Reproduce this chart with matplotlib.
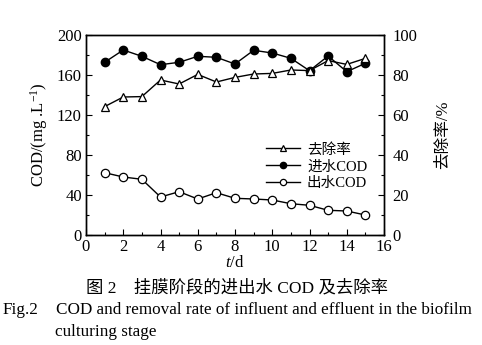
import matplotlib
matplotlib.use("Agg")
import matplotlib.pyplot as plt
from matplotlib.ticker import MultipleLocator

plt.rcParams['font.family'] = ['Liberation Serif', 'Noto Sans CJK SC']
plt.rcParams['mathtext.fontset'] = 'custom'
plt.rcParams['mathtext.rm'] = 'Liberation Serif'
plt.rcParams['mathtext.it'] = 'Liberation Serif:italic'

days = [1, 2, 3, 4, 5, 6, 7, 8, 9, 10, 11, 12, 13, 14, 15]
influent_cod = [172.7, 185, 178.7, 170.3, 172.7, 178.7, 177.7, 171, 184.7, 182, 176.7, 164.3, 179, 163.3, 171.7]
effluent_cod = [62.3, 58, 55.7, 38, 43.3, 36, 42.3, 36.7, 36, 35, 31.3, 29.7, 24.7, 24, 20]
removal_rate = [64.2, 69, 69.2, 77.5, 75.5, 80.3, 76.5, 78.8, 80.5, 80.8, 82.5, 82.2, 87.2, 85.3, 88.3]

fig = plt.figure(figsize=(4.82, 3.45), dpi=100)
ax = fig.add_axes([86/482, 110/345, 298/482, 200/345])
ax2 = ax.twinx()

lw = 1.0
ms = 6.0
l1, = ax2.plot(days, removal_rate, '-^', color='black', lw=lw, ms=ms,
               mfc='white', mec='black', mew=0.9)
l2, = ax.plot(days, influent_cod, '-o', color='black', lw=lw, ms=ms,
              mfc='black', mec='black')
l3, = ax.plot(days, effluent_cod, '-o', color='black', lw=lw, ms=ms,
              mfc='white', mec='black', mew=0.9)

ax.set_xlim(0, 16)
ax.set_ylim(0, 200)
ax2.set_ylim(0, 100)
ax.xaxis.set_major_locator(MultipleLocator(2))
ax.xaxis.set_minor_locator(MultipleLocator(1))
ax.yaxis.set_major_locator(MultipleLocator(40))
ax.yaxis.set_minor_locator(MultipleLocator(20))
ax2.yaxis.set_major_locator(MultipleLocator(20))
ax2.yaxis.set_minor_locator(MultipleLocator(10))

for a in (ax, ax2):
    for s in a.spines.values():
        s.set_linewidth(1.0)
    a.tick_params(which='both', direction='in', labelsize=12, width=0.8)
    a.tick_params(which='major', length=4)
    a.tick_params(which='minor', length=2)
ax.tick_params(axis='x', pad=3)
ax.tick_params(axis='y', pad=3)
ax2.tick_params(axis='y', pad=6)

ax.set_ylabel('COD/(mg .L$^{-1}$)', fontsize=12, labelpad=5)
ax2.set_ylabel('去除率/%', fontsize=12, rotation=90, labelpad=13)
ax.set_xlabel('$t$/d', fontsize=12, labelpad=0)

ax.legend([l1, l2, l3], ['去除率', '进水COD', '出水COD'],
          loc='upper left', bbox_to_anchor=(0.585, 0.49),
          frameon=False, fontsize=10.5, handlelength=2.3,
          handletextpad=0.5, labelspacing=0.25, borderaxespad=0,
          markerscale=0.75)

fig.text(237/482, 1 - 288/345, '图 2\u2003挂膜阶段的进出水 COD 及去除率',
         ha='center', va='center', fontsize=12.5)
fig.text(3/482, 1 - 310/345, 'Fig.2', ha='left', va='center', fontsize=12.3)
fig.text(56/482, 1 - 310/345,
         'COD and removal rate of influent and effluent in the biofilm',
         ha='left', va='center', fontsize=12.3)
fig.text(55/482, 1 - 332/345, 'culturing stage', ha='left', va='center', fontsize=12.3)

fig.savefig('out.png', dpi=100)
